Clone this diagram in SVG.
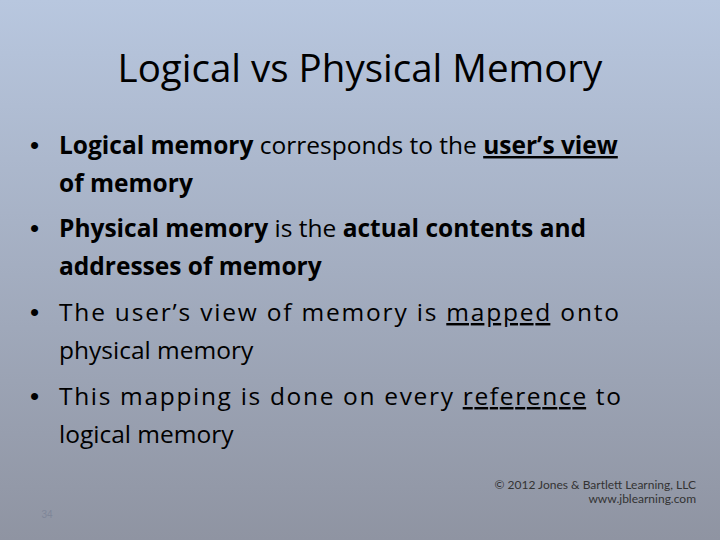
<svg xmlns="http://www.w3.org/2000/svg" width="720" height="540" viewBox="0 0 720 540">
<defs><linearGradient id="bg" x1="0" y1="0" x2="0" y2="1"><stop offset="0" stop-color="#b8c7df"/><stop offset="1" stop-color="#8f94a2"/></linearGradient></defs>
<style>
.t{font-family:"Open Sans","Liberation Sans",sans-serif;font-size:24.5px;fill:#000}
.d{font-family:"Liberation Sans",sans-serif;font-size:26px;fill:#000}
.b{font-weight:bold}.u{text-decoration:underline}
.title{font-family:"Open Sans","Liberation Sans",sans-serif;font-size:38.5px;fill:#000}
.c{font-family:"Lato","Liberation Sans",sans-serif;font-size:12px;fill:#333}
</style>
<rect width="720" height="540" fill="url(#bg)"/>
<text class="title" x="360" y="82" text-anchor="middle">Logical vs Physical Memory</text>
<g id="bullets">
<text class="d" x="30" y="154">•</text>
<text class="t" x="59" y="154"><tspan class="b">Logical memory</tspan> corresponds to the <tspan class="b u">user’s view</tspan></text>
<text class="t b" x="59" y="192">of memory</text>
<text class="d" x="30" y="237">•</text>
<text class="t" x="59" y="237"><tspan class="b">Physical memory</tspan> is the <tspan class="b">actual contents and</tspan></text>
<text class="t b" x="59" y="275">addresses of memory</text>
<text class="d" x="30" y="321">•</text>
<text class="t" x="59" y="321" textLength="560" lengthAdjust="spacing">The user’s view of memory is <tspan class="u">mapped</tspan> onto</text>
<text class="t" x="59" y="359">physical memory</text>
<text class="d" x="30" y="405">•</text>
<text class="t" x="59" y="405" textLength="562" lengthAdjust="spacing">This mapping is done on every <tspan class="u">reference</tspan> to</text>
<text class="t" x="59" y="443">logical memory</text>
</g>
<text class="c" x="696" y="489" text-anchor="end">© 2012 Jones &amp; Bartlett Learning, LLC</text>
<text class="c" x="696" y="503" text-anchor="end">www.jblearning.com</text>
<text x="47" y="518" text-anchor="middle" style="font-family:'Liberation Sans',sans-serif;font-size:10px;fill:#7f8699">34</text>
</svg>
